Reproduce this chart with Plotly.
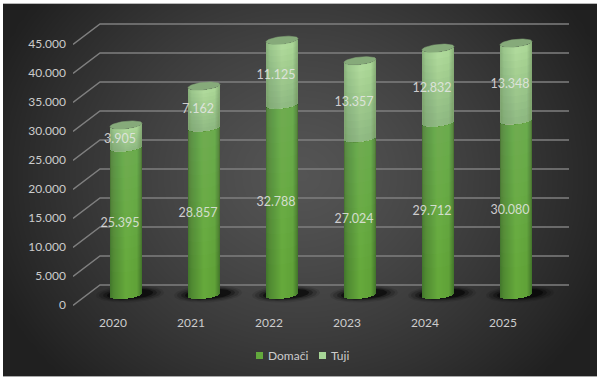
import numpy as np
import plotly.graph_objects as go

years = ["2020", "2021", "2022", "2023", "2024", "2025"]
domaci = [25395, 28857, 32788, 27024, 29712, 30080]
tuji = [3905, 7162, 11125, 13357, 12832, 13348]
axis_ticks = [0, 5000, 10000, 15000, 20000, 25000, 30000, 35000, 40000, 45000]
axis_labels = ["0", "5.000", "10.000", "15.000", "20.000", "25.000", "30.000", "35.000", "40.000", "45.000"]

W, H = 600, 382
UPX = 5000 / 29.0          # value units per pixel
PLOT_L, PLOT_R, PLOT_T, PLOT_B = 73, 569, 3, 313
BASE_PX = 295
STEP = 78.0                # px between columns
FIRST = 126.0              # px centre of first column
RADIUS = 16
GRID_DY = (BASE_PX - 285) * UPX


def xpx(p):
    return (np.asarray(p, float) - FIRST) / STEP


xrange_ = [float(xpx(PLOT_L)), float(xpx(PLOT_R))]
yrange_ = [-(PLOT_B - BASE_PX) * UPX, (BASE_PX - PLOT_T) * UPX]


def shade(stops, t):
    pos = [s[0] for s in stops]
    return "rgb(%d,%d,%d)" % tuple(
        np.interp(t, pos, [s[1][i] for s in stops]) for i in range(3))


LOW = [(0, (66, 118, 44)), (0.12, (80, 138, 50)), (0.5, (102, 170, 60)), (0.84, (96, 162, 56)), (1, (66, 116, 42))]
HIGH = [(0, (136, 176, 122)), (0.12, (155, 198, 140)), (0.5, (176, 218, 156)), (0.84, (170, 214, 150)), (1, (134, 172, 118))]

fig = go.Figure()

# Background gradient on a full frame axis pair
gx = np.linspace(3, 597, 60)
gy = np.linspace(3, 376, 40)
xx, yy = np.meshgrid(gx, gy)
r = np.sqrt(((xx - 300) / 340) ** 2 + ((yy - 175) / 300) ** 2)
z = np.clip(84 - 54 * r ** 1.3, 32, 90)
fig.add_trace(go.Heatmap(x=gx, y=gy, z=z, zsmooth="best", showscale=False, hoverinfo="skip",
                         zmin=0, zmax=255,
                         colorscale=[[0, "rgb(0,0,0)"], [1, "rgb(255,255,255)"]],
                         xaxis="x", yaxis="y"))

# Back wall grid lines and the diagonal stubs
gxs, gys = [], []
for t in axis_ticks:
    gxs += [xpx(73), xpx(100), xpx(569), None]
    gys += [t + GRID_DY - 20.5 * UPX, t + GRID_DY, t + GRID_DY, None]
fig.add_trace(go.Scatter(x=gxs, y=gys, mode="lines", line=dict(color="#7f7f7f", width=1.4), cliponaxis=False,
                         hoverinfo="skip", showlegend=False, xaxis="x2", yaxis="y2"))


def ellipse(cx, cy, rx, ry, tilt, n=70):
    a = np.linspace(0, 2 * np.pi, n)
    px = cx + rx * np.cos(a)
    py = cy + ry * np.sin(a) - tilt * np.cos(a)
    return px, py


# Floor shadows
for i in range(len(years)):
    c = FIRST + i * STEP
    for rx, ry, al in [(34, 8.5, 0.10), (31, 7.2, 0.16), (27, 6, 0.28), (23, 5, 0.5)]:
        px, py = ellipse(c + 4, 294, rx, ry, 1.5)
        fig.add_trace(go.Scatter(x=xpx(px), y=(BASE_PX - py) * UPX, mode="lines", fill="toself",
                                 fillcolor=f"rgba(0,0,0,{al})", line=dict(width=0),
                                 hoverinfo="skip", showlegend=False, xaxis="x2", yaxis="y2"))

# Cylinders: one pixel wide strips, front edge follows the ellipse
offs = np.arange(-RADIUS, RADIUS) + 0.5
u = offs / RADIUS
front = (3.8 * np.sqrt(1 - u ** 2) - 1.7 * u) * UPX
sx, sb, sh, sc = [], [], [], []
hx, hb, hh, hc = [], [], [], []
for i in range(len(years)):
    c = FIRST + i * STEP
    for o, t, f in zip(offs, (u + 1) / 2, front):
        lo = -f
        mid = domaci[i] - f
        sx.append(float(xpx(c + o)))
        sb.append(lo)
        sh.append(mid - lo)
        sc.append(shade(LOW, t))
        top = domaci[i] + tuji[i] - f
        hx.append(float(xpx(c + o)))
        hb.append(mid)
        hh.append(top - mid)
        hc.append(shade(HIGH, t))
fig.add_trace(go.Bar(x=sx, y=sh, base=sb, width=1 / STEP, marker=dict(color=sc, line=dict(width=0)),
                     name="Domači", showlegend=False, hoverinfo="skip", xaxis="x3", yaxis="y3"))
fig.add_trace(go.Bar(x=hx, y=hh, base=hb, width=1 / STEP, marker=dict(color=hc, line=dict(width=0)),
                     name="Tuji", showlegend=False, hoverinfo="skip", xaxis="x3", yaxis="y3"))


# Soft vertical fade: thin translucent veils inside each segment
def veil_path(c, low, high):
    ex = c + offs
    xs = np.concatenate([ex, ex[::-1], ex[:1]])
    ys = np.concatenate([low - front, (high - front)[::-1], [low - front[0]]])
    return xpx(xs), ys


for k in range(1, 11):
    vx, vy, wx, wy = [], [], [], []
    for i in range(len(years)):
        c = FIRST + i * STEP
        px, py = veil_path(c, domaci[i] * (0.1 + 0.08 * k), domaci[i])
        vx += list(px) + [None]
        vy += list(py) + [None]
        px, py = veil_path(c, domaci[i], domaci[i] + tuji[i] * k / 11)
        wx += list(px) + [None]
        wy += list(py) + [None]
    fig.add_trace(go.Scatter(x=vx, y=vy, mode="lines", fill="toself", fillcolor="rgba(185,200,165,0.022)",
                             line=dict(width=0), hoverinfo="skip", showlegend=False, xaxis="x3", yaxis="y3"))
    fig.add_trace(go.Scatter(x=wx, y=wy, mode="lines", fill="toself", fillcolor="rgba(85,125,75,0.026)",
                             line=dict(width=0), hoverinfo="skip", showlegend=False, xaxis="x3", yaxis="y3"))

# Top caps
for i in range(len(years)):
    c = FIRST + i * STEP
    cy = domaci[i] + tuji[i]
    px, py = ellipse(c, 0, RADIUS, 3.8, 1.7)
    fig.add_trace(go.Scatter(x=xpx(px), y=cy - py * UPX, mode="lines", fill="toself",
                             fillcolor="rgb(134,170,122)", line=dict(width=0.5, color="rgb(134,170,122)"),
                             hoverinfo="skip", showlegend=False, xaxis="x3", yaxis="y3"))

# Value labels
lx, ly, lt = [], [], []
for i in range(len(years)):
    lx += [i - 6 / STEP, i - 6 / STEP]
    ly += [domaci[i] / 2 - 3 * UPX, domaci[i] + tuji[i] / 2 - 3 * UPX]
    lt += [f"{domaci[i]:,}".replace(",", "."), f"{tuji[i]:,}".replace(",", ".")]
fig.add_trace(go.Scatter(x=lx, y=ly, text=lt, mode="text", textposition="middle center",
                         textfont=dict(family="Lato", size=12.5, color="rgba(232,232,232,0.85)"),
                         hoverinfo="skip", showlegend=False, xaxis="x3", yaxis="y3"))

# Legend
leg = [("Domači", 256, "#62a83c"), ("Tuji", 319, "#a6d596")]
shapes = []
annotations = []
for name, x0, col in leg:
    shapes.append(dict(type="rect", xref="paper", yref="paper", x0=x0 / W, x1=(x0 + 7) / W,
                       y0=1 - 359 / H, y1=1 - 352 / H, fillcolor=col, line=dict(width=0)))
    annotations.append(dict(text=name, xref="paper", yref="paper", x=(x0 + 10) / W, y=1 - 355.5 / H,
                            xanchor="left", yanchor="middle", showarrow=False,
                            font=dict(family="Lato", size=12, color="#cccccc")))
# Frame edges
shapes += [
    dict(type="line", xref="paper", yref="paper", x0=3 / W, x1=597 / W, y0=1 - 3.5 / H, y1=1 - 3.5 / H,
         line=dict(color="#b8b8b8", width=1)),
    dict(type="line", xref="paper", yref="paper", x0=3 / W, x1=597 / W, y0=1 - 376.5 / H, y1=1 - 376.5 / H,
         line=dict(color="#a8a8a8", width=1)),
]

fig.update_layout(
    width=W, height=H, autosize=False,
    margin=dict(l=0, r=0, t=0, b=0),
    paper_bgcolor="white", plot_bgcolor="rgba(0,0,0,0)",
    barmode="overlay", bargap=0, showlegend=False,
    shapes=shapes, annotations=annotations,
    xaxis=dict(domain=[3 / W, 597 / W], range=[3, 597], visible=False, fixedrange=True),
    yaxis=dict(domain=[1 - 376 / H, 1 - 3 / H], range=[376, 3], visible=False, fixedrange=True),
    xaxis2=dict(domain=[PLOT_L / W, PLOT_R / W], range=xrange_, anchor="y2", visible=False, fixedrange=True),
    yaxis2=dict(domain=[1 - PLOT_B / H, 1 - PLOT_T / H], range=yrange_, anchor="x2", visible=False, fixedrange=True),
    xaxis3=dict(domain=[PLOT_L / W, PLOT_R / W], range=xrange_, anchor="y3", showgrid=False, zeroline=False,
                showline=False, ticks="", tickmode="array", ticklabelstandoff=1,
                tickvals=[i - 13 / STEP for i in range(len(years))], ticktext=years,
                tickfont=dict(family="Lato", size=12, color="#cccccc"), fixedrange=True),
    yaxis3=dict(domain=[1 - PLOT_B / H, 1 - PLOT_T / H], range=yrange_, anchor="x3", showgrid=False,
                zeroline=False, showline=False, showticklabels=False, ticks="", fixedrange=True),
    yaxis4=dict(range=[-(PLOT_B - 305) * UPX, (305 - PLOT_T) * UPX],
                anchor="free", position=66 / W, overlaying="y3", side="left",
                tickmode="array", tickvals=axis_ticks, ticktext=axis_labels, ticks="", showgrid=False,
                zeroline=False, showline=False,
                tickfont=dict(family="Lato", size=12, color="#cccccc"), fixedrange=True),
)
fig.add_trace(go.Scatter(x=[0], y=[0], mode="markers", marker=dict(opacity=0, size=1), xaxis="x3", yaxis="y4",
                         showlegend=False, hoverinfo="skip"))

fig.write_html("out.html", config=dict(displayModeBar=False),
               post_script="document.body.style.margin='0';document.documentElement.style.overflow='hidden';")
